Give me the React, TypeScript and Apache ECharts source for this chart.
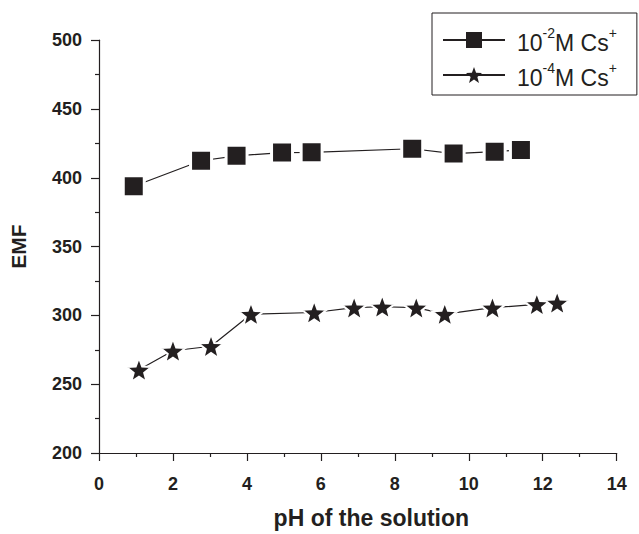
import React, { useEffect, useRef } from "react";
import * as echarts from "echarts";

const seriesNames = ["10^-2M Cs^+", "10^-4M Cs^+"];

const phHigh = [0.94, 2.76, 3.72, 4.95, 5.75, 8.47, 9.59, 10.7, 11.41];
const emfHigh = [393.9, 412.4, 416, 418.3, 418.5, 421.1, 417.6, 419, 420.2];

const phLow = [1.08, 2.0, 3.03, 4.11, 5.82, 6.9, 7.66, 8.58, 9.35, 10.64, 11.84, 12.39];
const emfLow = [260.5, 274.3, 277.6, 300.9, 302.1, 305.6, 306.3, 305.6, 300.9, 305.6, 308, 309.2];

const xTicks = { min: 0, max: 14, interval: 2 };
const yTicks = { min: 200, max: 500, interval: 50 };

const STAR =
  "path://M50 0L62.34 33.01L97.55 34.55L69.97 56.49L79.39 90.45L50 71L20.61 90.45L30.03 56.49L2.45 34.55L37.66 33.01Z";

const INK = "#231f20";
const FONT = "'Liberation Sans', Arial, Helvetica, sans-serif";

export default function App() {
  const ref = useRef<HTMLDivElement>(null);

  useEffect(() => {
    document.body.style.margin = "0";
    if (!ref.current) return;
    const chart = echarts.init(ref.current, undefined, { renderer: "svg" });

    const toPairs = (xs: number[], ys: number[]) => xs.map((x, i) => [x, ys[i]]);

    chart.setOption({
      animation: false,
      backgroundColor: "#ffffff",
      textStyle: { fontFamily: FONT },
      grid: { left: 97.5, right: 22.3, top: 40.2, bottom: 72.3, containLabel: false },
      legend: {
        left: 432,
        top: 13,
        orient: "vertical",
        itemWidth: 62,
        itemHeight: 20,
        itemGap: 6,
        padding: [12.5, 20, 5.5, 10],
        borderColor: INK,
        borderWidth: 1,
        data: seriesNames,
        itemStyle: { borderWidth: 0 },
        formatter: (name: string) => {
          const m = name.match(/^10\^(-\d)M Cs\^\+$/);
          if (m) return `{first|10}{sup|${m[1]}}{base|M Cs}{sup|+}`;
          return name;
        },
        textStyle: {
          color: INK,
          fontFamily: FONT,
          rich: {
            first: { fontSize: 23, color: INK, fontFamily: FONT, verticalAlign: "bottom", lineHeight: 29, padding: [0, 0, 0, 7] },
            base: { fontSize: 23, color: INK, fontFamily: FONT, verticalAlign: "bottom", lineHeight: 29 },
            sup: { fontSize: 14, color: INK, fontFamily: FONT, verticalAlign: "top", lineHeight: 14 },
          },
        },
      },
      xAxis: {
        type: "value",
        min: xTicks.min,
        max: xTicks.max,
        interval: xTicks.interval,
        name: "pH of the solution",
        nameLocation: "middle",
        nameGap: 53,
        nameTextStyle: { fontSize: 23, fontWeight: "bold", color: INK, fontFamily: FONT, padding: [0, 0, 0, 27] },
        axisLine: { onZero: false, lineStyle: { color: INK, width: 1.2 } },
        axisTick: { show: true, length: 8, lineStyle: { color: INK, width: 1.2 } },
        minorTick: { show: true, splitNumber: 2, length: 4, lineStyle: { color: INK, width: 1.2 } },
        axisLabel: { fontSize: 18, fontWeight: "bold", color: INK, margin: 22, fontFamily: FONT },
        splitLine: { show: false },
        minorSplitLine: { show: false },
      },
      yAxis: {
        type: "value",
        min: yTicks.min,
        max: yTicks.max,
        interval: yTicks.interval,
        name: "EMF",
        nameLocation: "middle",
        nameGap: 70,
        nameTextStyle: { fontSize: 21, fontWeight: "bold", color: INK, fontFamily: FONT },
        axisLine: { onZero: false, lineStyle: { color: INK, width: 1.2 } },
        axisTick: { show: true, length: 8, lineStyle: { color: INK, width: 1.2 } },
        minorTick: { show: true, splitNumber: 2, length: 4, lineStyle: { color: INK, width: 1.2 } },
        axisLabel: { fontSize: 18, fontWeight: "bold", color: INK, margin: 17, fontFamily: FONT },
        splitLine: { show: false },
        minorSplitLine: { show: false },
      },
      series: [
        {
          name: seriesNames[0],
          type: "line",
          data: toPairs(phHigh, emfHigh),
          symbol: "rect",
          symbolSize: 21,
          showAllSymbol: true,
          lineStyle: { color: INK, width: 1.2 },
          itemStyle: { color: INK, borderColor: "#ffffff", borderWidth: 3 },
        },
        {
          name: seriesNames[1],
          type: "line",
          data: toPairs(phLow, emfLow),
          symbol: STAR,
          symbolSize: [25, 24],
          showAllSymbol: true,
          lineStyle: { color: INK, width: 1.2 },
          itemStyle: { color: INK, borderColor: "#ffffff", borderWidth: 2 },
        },
      ],
    });

    return () => chart.dispose();
  }, []);

  return <div ref={ref} style={{ width: 639, height: 534 }} />;
}
